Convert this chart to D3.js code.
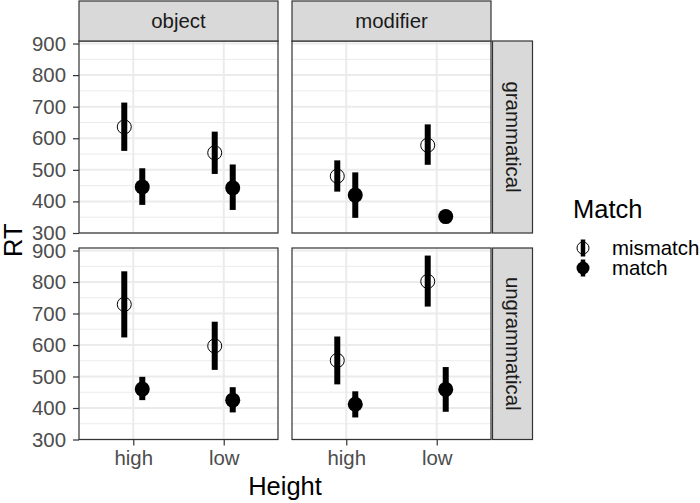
<!DOCTYPE html>
<html>
<head>
<meta charset="utf-8">
<script src="https://cdn.jsdelivr.net/npm/d3@7"></script>
<style>
  body { margin: 0; background: #fff; }
  text { font-family: "Liberation Sans", Arial, sans-serif; }
</style>
</head>
<body>
<div id="chart"></div>
<script>
// facets
var columns = ["object", "modifier"];
var rows = ["grammatical", "ungrammatical"];
var heights = ["high", "low"];
var matchLevels = ["mismatch", "match"];
var yTicks = [300, 400, 500, 600, 700, 800, 900];

// values: [row][column][height]
var mismatchRT = [[[636, 554], [480, 578]], [[729, 597], [551, 802]]];
var mismatchLo = [[[560, 487], [431, 516]], [[624, 521], [475, 722]]];
var mismatchHi = [[[713, 621], [530, 644]], [[834, 674], [627, 884]]];
var matchRT = [[[446, 443], [420, 352]], [[460, 425], [412, 459]]];
var matchLo = [[[389, 373], [348, 340]], [[425, 386], [370, 388]]];
var matchHi = [[[505, 517], [492, 364]], [[499, 466], [453, 530]]];

var width = 700,
  height = 503;

var panelX = [[79, 278], [292, 491]];
var panelY = [[41, 233], [248, 439.5]];

var smallFont = "20.4px",
  bigFont = "25.5px";

var svg = d3
  .select("#chart")
  .append("svg")
  .attr("width", width)
  .attr("height", height);

var dodge = 9;

var data = [];
rows.forEach(function (r, ri) {
  columns.forEach(function (c, ci) {
    heights.forEach(function (h, hi) {
      data.push({ row: ri, col: ci, height: h, match: "mismatch",
        rt: mismatchRT[ri][ci][hi], lo: mismatchLo[ri][ci][hi], hi: mismatchHi[ri][ci][hi] });
      data.push({ row: ri, col: ci, height: h, match: "match",
        rt: matchRT[ri][ci][hi], lo: matchLo[ri][ci][hi], hi: matchHi[ri][ci][hi] });
    });
  });
});

rows.forEach(function (r, ri) {
  columns.forEach(function (c, ci) {
    var x0 = panelX[ci][0], x1 = panelX[ci][1];
    var y0 = panelY[ri][0], y1 = panelY[ri][1];

    // discrete scale with ggplot-style 0.6 expansion
    var xs = d3.scalePoint().domain(heights).range([x0 + (x1 - x0) * 0.6 / 2.2, x0 + (x1 - x0) * 1.6 / 2.2]);
    var ys = d3.scaleLinear().domain([300, 908]).range([y1, y0]);

    var g = svg.append("g");

    g.append("rect")
      .attr("x", x0).attr("y", y0)
      .attr("width", x1 - x0).attr("height", y1 - y0)
      .attr("fill", "#fff");

    // minor grid
    g.selectAll(".minor")
      .data(d3.range(350, 900, 100))
      .enter()
      .append("line")
      .attr("x1", x0).attr("x2", x1)
      .attr("y1", d => ys(d)).attr("y2", d => ys(d))
      .attr("stroke", "#ebebeb").attr("stroke-width", 1);

    // major grid
    g.selectAll(".majorY")
      .data(yTicks)
      .enter()
      .append("line")
      .attr("x1", x0).attr("x2", x1)
      .attr("y1", d => ys(d)).attr("y2", d => ys(d))
      .attr("stroke", "#ebebeb").attr("stroke-width", 2);

    g.selectAll(".majorX")
      .data(heights)
      .enter()
      .append("line")
      .attr("x1", d => xs(d)).attr("x2", d => xs(d))
      .attr("y1", y0).attr("y2", y1)
      .attr("stroke", "#ebebeb").attr("stroke-width", 2);

    var pd = data.filter(d => d.row == ri && d.col == ci);
    function px(d) {
      return xs(d.height) + (d.match == "mismatch" ? -dodge : dodge);
    }

    g.selectAll(".bar")
      .data(pd)
      .enter()
      .append("line")
      .attr("x1", px).attr("x2", px)
      .attr("y1", d => ys(d.lo)).attr("y2", d => ys(d.hi))
      .attr("stroke", "#000").attr("stroke-width", 6);

    g.selectAll(".pt")
      .data(pd)
      .enter()
      .append("circle")
      .attr("cx", px).attr("cy", d => ys(d.rt))
      .attr("r", d => d.match == "mismatch" ? 7 : 7.5)
      .attr("fill", d => d.match == "mismatch" ? "none" : "#000")
      .attr("stroke", "#000")
      .attr("stroke-width", d => d.match == "mismatch" ? 1 : 0);

    g.append("rect")
      .attr("x", x0).attr("y", y0)
      .attr("width", x1 - x0).attr("height", y1 - y0)
      .attr("fill", "none")
      .attr("stroke", "#333").attr("stroke-width", 1.2);

    // y axis on left column
    if (ci == 0) {
      var ya = g.append("g").attr("transform", "translate(" + x0 + ",0)")
        .call(d3.axisLeft(ys).tickValues(yTicks).tickSize(6).tickPadding(7));
      ya.select(".domain").remove();
      ya.selectAll("line").attr("stroke", "#333").attr("stroke-width", 1.2);
      ya.selectAll("text").attr("fill", "#4d4d4d").style("font-size", smallFont);
    }

    // x axis on bottom row
    if (ri == rows.length - 1) {
      var xa = g.append("g").attr("transform", "translate(0," + y1 + ")")
        .call(d3.axisBottom(xs).tickSize(6).tickPadding(5));
      xa.select(".domain").remove();
      xa.selectAll("line").attr("stroke", "#333").attr("stroke-width", 1.2);
      xa.selectAll("text").attr("fill", "#4d4d4d").style("font-size", smallFont);
    }

    // top strips
    if (ri == 0) {
      svg.append("rect")
        .attr("x", x0).attr("y", 1)
        .attr("width", x1 - x0).attr("height", y0 - 1)
        .attr("fill", "#d9d9d9").attr("stroke", "#333").attr("stroke-width", 1.2);
      svg.append("text")
        .attr("x", (x0 + x1) / 2).attr("y", (y0 + 1) / 2)
        .attr("text-anchor", "middle").attr("dy", "0.33em")
        .attr("fill", "#1a1a1a").style("font-size", smallFont)
        .text(c);
    }

    // right strips
    if (ci == columns.length - 1) {
      svg.append("rect")
        .attr("x", x1 + 1.5).attr("y", y0)
        .attr("width", 40).attr("height", y1 - y0)
        .attr("fill", "#d9d9d9").attr("stroke", "#333").attr("stroke-width", 1.2);
      svg.append("text")
        .attr("transform", "translate(" + (x1 + 21.5) + "," + (y0 + y1) / 2 + ") rotate(90)")
        .attr("text-anchor", "middle").attr("dy", "0.33em")
        .attr("fill", "#1a1a1a").style("font-size", smallFont)
        .text(r);
    }
  });
});

// axis titles
svg.append("text")
  .attr("x", (panelX[0][0] + panelX[1][1]) / 2).attr("y", 495)
  .attr("text-anchor", "middle")
  .style("font-size", bigFont)
  .text("Height");

svg.append("text")
  .attr("transform", "translate(22," + (panelY[0][0] + panelY[1][1]) / 2 + ") rotate(-90)")
  .attr("text-anchor", "middle")
  .style("font-size", bigFont)
  .text("RT");

// legend
var legend = svg.append("g");
legend.append("text")
  .attr("x", 573).attr("y", 218)
  .style("font-size", bigFont)
  .text("Match");

var keys = legend.selectAll(".key")
  .data(matchLevels)
  .enter()
  .append("g")
  .attr("transform", (d, i) => "translate(583," + (248 + i * 20) + ")");

keys.append("line")
  .attr("y1", -8.5).attr("y2", 8.5)
  .attr("stroke", "#000").attr("stroke-width", 4.5);

keys.append("circle")
  .attr("r", d => d == "mismatch" ? 6 : 6.5)
  .attr("fill", d => d == "mismatch" ? "none" : "#000")
  .attr("stroke", "#000")
  .attr("stroke-width", d => d == "mismatch" ? 1 : 0);

keys.append("text")
  .attr("x", 29).attr("dy", "0.35em")
  .style("font-size", smallFont)
  .text(d => d);
</script>
</body>
</html>
